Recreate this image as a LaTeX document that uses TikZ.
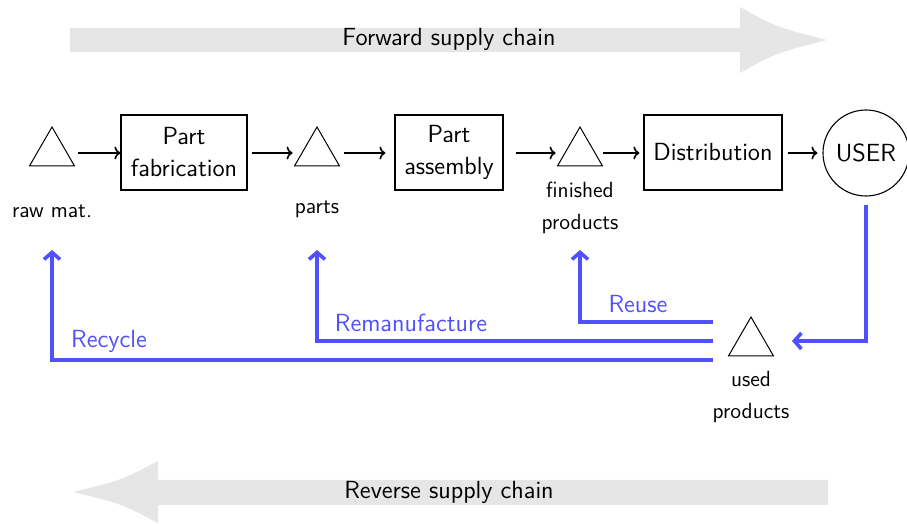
\documentclass[tikz,border=0pt]{standalone}
\usepackage{fontspec}
\usetikzlibrary{shapes.geometric,arrows.meta}
\definecolor{loopblue}{RGB}{80,80,255}
\definecolor{bandgray}{RGB}{230,230,230}
\begin{document}
\begin{tikzpicture}[x=0.5pt,y=-0.5pt,
  font=\sffamily\fontsize{12.4}{16}\selectfont,
  process/.style={draw, line width=0.55pt, align=center, minimum height=37.5pt, inner sep=0pt},
  stock/.style={draw, regular polygon, regular polygon sides=3, minimum size=26pt, inner sep=0pt, line width=0.5pt},
  stocklabel/.style={align=center, font=\sffamily\fontsize{11}{16}\selectfont, inner sep=0pt},
  flow/.style={-{To[length=3pt,width=6.5pt]}, line width=0.8pt},
  loopflow/.style={draw=loopblue, line width=1.8pt, -{Straight Barb[length=3.5pt,width=8pt]}},
  looplabel/.style={text=loopblue, inner sep=0pt}]
\useasboundingbox (0,0) rectangle (907,524);

% direction bands
\fill[bandgray] (70,28) -- (740,28) -- (740,7) .. controls (776,27) .. (827,40)
  .. controls (776,53) .. (740,73) -- (740,52) -- (70,52) -- cycle;
\node (fwd) at (449,39) {Forward supply chain};
\fill[bandgray] (828,480) -- (158,480) -- (158,461) .. controls (122,480) .. (73,492)
  .. controls (122,504) .. (158,523) -- (158,505) -- (828,505) -- cycle;
\node (rev) at (449,492) {Reverse supply chain};

% stocks and processes
\node[stock] (raw) at (52,153) {};
\node[process, minimum width=63pt] (pf) at (184,152.5) {Part\\fabrication};
\node[stock] (parts) at (317,153) {};
\node[process, minimum width=54pt] (pa) at (449,152.5) {Part\\assembly};
\node[stock] (fin) at (580,153) {};
\node[process, minimum width=69pt] (dist) at (713,152.5) {Distribution};
\node[draw, circle, line width=0.55pt, minimum size=43pt, inner sep=0pt] (user) at (866,153) {USER};
\node[stock] (used) at (751,343) {};

\node[stocklabel] (rawlab) at (52,211) {raw mat.};
\node[stocklabel] (partslab) at (317,209) {parts};
\node[stocklabel] (finlab) at (580,208) {finished\\products};
\node[stocklabel] (usedlab) at (751,397) {used\\products};

% forward flow
\draw[flow, shorten <=1.5pt] (raw.corner 3 |- raw.center) -- (pf.west |- raw.center);
\draw[flow, shorten <=2pt, shorten >=0.5pt] (pf.east |- parts.center) -- (parts.corner 2 |- parts.center);
\draw[flow, shorten <=1.75pt, shorten >=4.5pt] (parts.corner 3 |- parts.center) -- (pa.west |- parts.center);
\draw[flow, shorten <=6pt, shorten >=0.5pt] (pa.east |- fin.center) -- (fin.corner 2 |- fin.center);
\draw[flow, shorten >=2pt] (fin.corner 3 |- fin.center) -- (dist.west |- fin.center);
\draw[flow, shorten <=2.5pt, shorten >=2.5pt] (dist.east |- user.center) -- (user.west);

% recovery loops
\coordinate (userout) at (866,205);
\coordinate (usedin) at (792,341);
\coordinate (reuseout) at (713,322);
\coordinate (remanout) at (713,341);
\coordinate (recycout) at (713,360);
\coordinate (finin) at (580,250);
\coordinate (partsin) at (317,250);
\coordinate (rawin) at (52,250);

\draw[loopflow] (userout) |- (usedin);
\draw[loopflow] (reuseout) -| (finin);
\draw[loopflow] (remanout) -| (partsin);
\draw[loopflow] (recycout) -| (rawin);

\node[looplabel] (reuse) at (638,304) {Reuse};
\node[looplabel] (reman) at (411,323) {Remanufacture};
\node[looplabel] (recyc) at (109,341) {Recycle};
\end{tikzpicture}
\end{document}
